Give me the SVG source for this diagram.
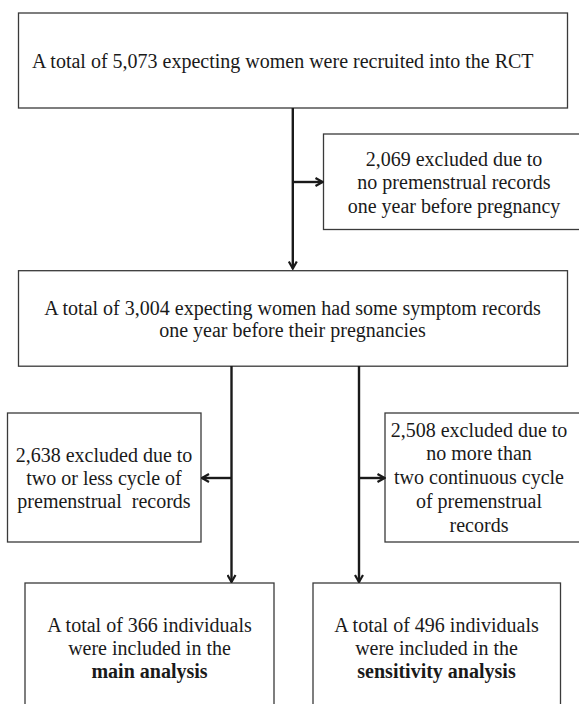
<svg xmlns="http://www.w3.org/2000/svg" width="579" height="704" viewBox="0 0 579 704">
<defs>
<style>
.box{fill:#fff;stroke:#3a3a3a;stroke-width:1.3}
text{font-family:"Liberation Serif","Times New Roman",serif;font-size:20px;fill:#1a1a1a}
.c{text-anchor:middle}
.b{font-weight:bold}
.ln{fill:none;stroke:#1a1a1a;stroke-width:2.4}
</style>
<marker id="ah" viewBox="0 0 10 10" refX="9" refY="5" markerWidth="10" markerHeight="10" markerUnits="userSpaceOnUse" orient="auto">
<path d="M2,1 L9,5 L2,9" fill="none" stroke="#1a1a1a" stroke-width="2.2"/>
</marker>
</defs>
<rect width="579" height="704" fill="#fff"/>
<g id="recruited">
<rect class="box" x="18.5" y="13" width="549" height="95"/>
<text x="32" y="68">A total of 5,073 expecting women were recruited into the RCT</text>
</g>
<g id="excluded1">
<rect class="box" x="323.5" y="134" width="262" height="95.5"/>
<text class="c" x="454" y="165.5">2,069 excluded due to</text>
<text class="c" x="454" y="189">no premenstrual records</text>
<text class="c" x="454" y="212.5">one year before pregnancy</text>
</g>
<g id="symptoms">
<rect class="box" x="18.5" y="270.7" width="549" height="95.5"/>
<text class="c" x="292.5" y="315">A total of 3,004 expecting women had some symptom records</text>
<text class="c" x="292.5" y="337">one year before their pregnancies</text>
</g>
<g id="excluded2">
<rect class="box" x="7.5" y="413" width="193.5" height="129"/>
<text class="c" x="104" y="462">2,638 excluded due to</text>
<text class="c" x="104" y="485">two or less cycle of</text>
<text class="c" x="104" y="508" xml:space="preserve">premenstrual  records</text>
</g>
<g id="excluded3">
<rect class="box" x="385" y="413" width="200" height="129"/>
<text class="c" x="479" y="437">2,508 excluded due to</text>
<text class="c" x="479" y="460">no more than</text>
<text class="c" x="479" y="484">two continuous cycle</text>
<text class="c" x="479" y="508">of premenstrual</text>
<text class="c" x="479" y="532">records</text>
</g>
<g id="main">
<rect class="box" x="25" y="583" width="249" height="130"/>
<text class="c" x="149.5" y="632">A total of 366 individuals</text>
<text class="c" x="149.5" y="655">were included in the</text>
<text class="c b" x="149.5" y="678">main analysis</text>
</g>
<g id="sensitivity">
<rect class="box" x="313" y="583" width="247.5" height="130"/>
<text class="c" x="436.5" y="632">A total of 496 individuals</text>
<text class="c" x="436.5" y="655">were included in the</text>
<text class="c b" x="436.5" y="678">sensitivity analysis</text>
</g>
<g id="connectors">
<path class="ln" d="M292.8,108 V268.5" marker-end="url(#ah)"/>
<path class="ln" d="M292.8,182 H322.5" marker-end="url(#ah)"/>
<path class="ln" d="M231.5,366 V582" marker-end="url(#ah)"/>
<path class="ln" d="M231.5,478 H202" marker-end="url(#ah)"/>
<path class="ln" d="M359,366 V582" marker-end="url(#ah)"/>
<path class="ln" d="M359,478 H384.5" marker-end="url(#ah)"/>
</g>
</svg>
